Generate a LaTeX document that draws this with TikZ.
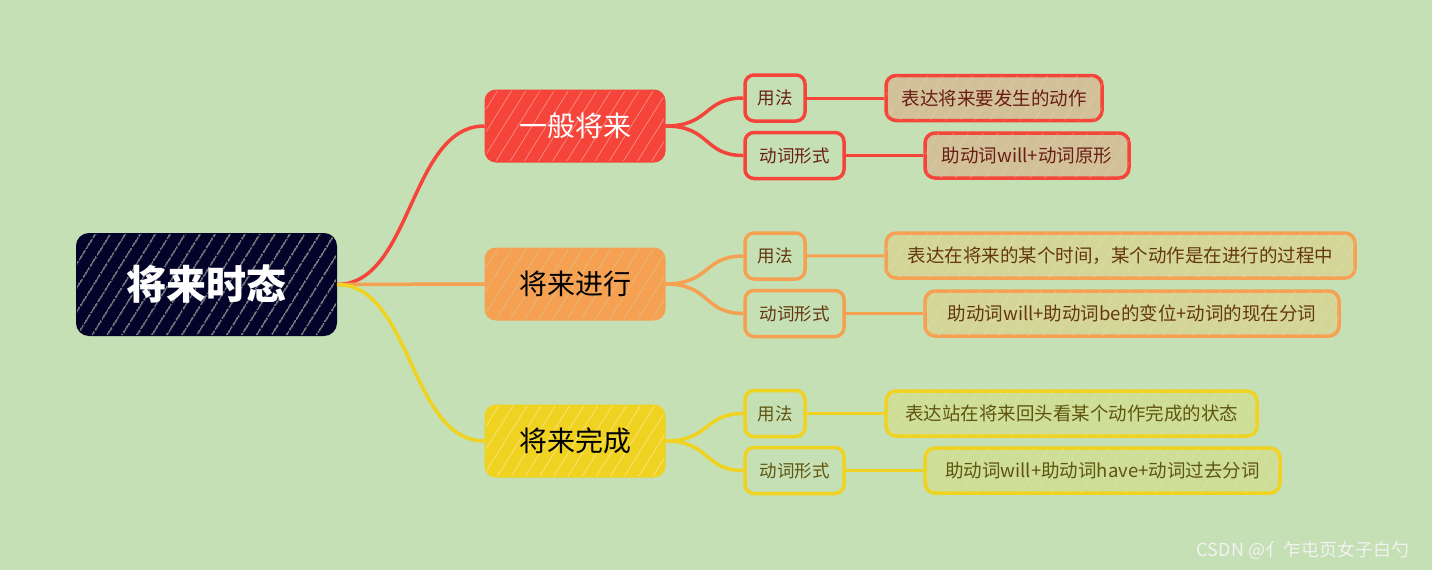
\documentclass[tikz,border=0pt]{standalone}
\usepackage{fontspec}
\usepackage{tikz}
\usetikzlibrary{positioning, patterns.meta}
\newfontfamily\cjk{Noto Sans CJK SC}
\definecolor{bggreen}{RGB}{197,224,180}
\definecolor{rootnavy}{RGB}{3,3,42}
\definecolor{keyred}{RGB}{245,68,58}
\definecolor{keyorange}{RGB}{246,160,82}
\definecolor{keyyellow}{RGB}{240,210,32}
\definecolor{leafred}{RGB}{210,192,152}
\definecolor{leaforange}{RGB}{212,214,152}
\definecolor{leafyellow}{RGB}{206,222,150}
\definecolor{inkred}{RGB}{105,30,20}
\definecolor{inkorange}{RGB}{100,55,15}
\definecolor{inkyellow}{RGB}{95,85,15}

\begin{document}
\begin{tikzpicture}[x=1pt, y=-1pt, font=\cjk,
    hatch/.style n args={3}{postaction={pattern={Lines[angle=58, distance=#1, line width=#2]}, pattern color=#3}},
    root/.style={draw=rootnavy, line width=2pt, fill=rootnavy, rounded corners=12pt,
      minimum width=259pt, minimum height=101pt, text=white,
      font=\cjk\fontsize{40}{40}\selectfont\bfseries, hatch={13pt}{1pt}{bggreen!90!white}},
    topic/.style={draw=#1, line width=3pt, fill=#1, rounded corners=10pt,
      minimum width=178pt, minimum height=70pt, font=\cjk\fontsize{28}{28}\selectfont},
    usage/.style={draw=#1, line width=3.5pt, rounded corners=9pt, minimum height=46pt,
      inner sep=0pt, font=\cjk\fontsize{17.5}{17.5}\selectfont},
    leaf/.style={draw=#1, line width=3.5pt, rounded corners=10pt, minimum height=45pt,
      inner sep=0pt, font=\cjk\fontsize{18.5}{18.5}\selectfont},
    link/.style={draw=#1, line width=3.5pt}]
  \useasboundingbox[fill=bggreen] (0,0) rectangle (1432,570);

  \node[root] (root) at (206.5,284.5) {将来时态};

  \node[topic=keyred, text=white, hatch={12pt}{0.7pt}{keyred!60!white}]        (simple)   at (575,126) {一般将来};
  \node[topic=keyorange, text=black, hatch={12pt}{0.7pt}{keyorange!55!bggreen}] (progress) at (575,284) {将来进行};
  \node[topic=keyyellow, text=black, hatch={12pt}{0.7pt}{keyyellow!55!white}]   (perfect)  at (575,441) {将来完成};

  \node[usage=keyred, text=inkred, minimum width=60pt]        (su) at (775,98)    {用法};
  \node[usage=keyred, text=inkred, minimum width=99pt]        (sf) at (794.5,155.5) {动词形式};
  \node[usage=keyorange, text=inkorange, minimum width=60pt]  (pu) at (775,256)   {用法};
  \node[usage=keyorange, text=inkorange, minimum width=99pt]  (pf) at (794.5,313.5) {动词形式};
  \node[usage=keyyellow, text=inkyellow, minimum width=60pt]  (fu) at (775,413.5) {用法};
  \node[usage=keyyellow, text=inkyellow, minimum width=99pt]  (ff) at (794.5,470.5) {动词形式};

  \node[leaf=keyred, fill=leafred, text=inkred, minimum width=216pt,
    hatch={13pt}{0.5pt}{leafred!75!white}] (sul) at (994,98) {表达将来要发生的动作};
  \node[leaf=keyred, fill=leafred, text=inkred, minimum width=204pt,
    hatch={13pt}{0.5pt}{leafred!75!white}] (sfl) at (1027,155.5) {助动词will+动词原形};
  \node[leaf=keyorange, fill=leaforange, text=inkorange, minimum width=469pt,
    hatch={13pt}{0.5pt}{leaforange!75!white}] (pul) at (1120.5,255.5) {表达在将来的某个时间，某个动作是在进行的过程中};
  \node[leaf=keyorange, fill=leaforange, text=inkorange, minimum width=414pt,
    hatch={13pt}{0.5pt}{leaforange!75!white}] (pfl) at (1132,313.5) {助动词will+助动词be的变位+动词的现在分词};
  \node[leaf=keyyellow, fill=leafyellow, text=inkyellow, minimum width=371pt,
    hatch={13pt}{0.5pt}{leafyellow!75!white}] (ful) at (1071.5,413.5) {表达站在将来回头看某个动作完成的状态};
  \node[leaf=keyyellow, fill=leafyellow, text=inkyellow, minimum width=355pt,
    hatch={13pt}{0.5pt}{leafyellow!75!white}] (ffl) at (1102.5,470.5) {助动词will+助动词have+动词过去分词};

  \draw[link=keyred]    (root.east) .. controls +(75,0) and +(-75,0) .. (simple.west);
  \draw[link=keyorange] (root.east) .. controls +(75,0) and +(-75,0) .. (progress.west);
  \draw[link=keyyellow] (root.east) .. controls +(75,0) and +(-75,0) .. (perfect.west);

  \draw[link=keyred] (simple.east) .. controls +(45,0) and +(-40,0) .. (su.west);
  \draw[link=keyred] (simple.east) .. controls +(45,0) and +(-40,0) .. (sf.west);
  \draw[link=keyorange] (progress.east) .. controls +(45,0) and +(-40,0) .. (pu.west);
  \draw[link=keyorange] (progress.east) .. controls +(45,0) and +(-40,0) .. (pf.west);
  \draw[link=keyyellow] (perfect.east) .. controls +(45,0) and +(-40,0) .. (fu.west);
  \draw[link=keyyellow] (perfect.east) .. controls +(45,0) and +(-40,0) .. (ff.west);

  \draw[link=keyred, line width=3pt] (su) -- (sul);
  \draw[link=keyred, line width=3pt] (sf) -- (sfl);
  \draw[link=keyorange, line width=3pt] (pu) -- (pul);
  \draw[link=keyorange, line width=3pt] (pf) -- (pfl);
  \draw[link=keyyellow, line width=3pt] (fu) -- (ful);
  \draw[link=keyyellow, line width=3pt] (ff) -- (ffl);

  \node[font=\cjk\fontsize{18}{18}\selectfont, text=white!90!gray] (mark) at (1303,550) {CSDN @亻乍屯页女子白勺};
\end{tikzpicture}
\end{document}
